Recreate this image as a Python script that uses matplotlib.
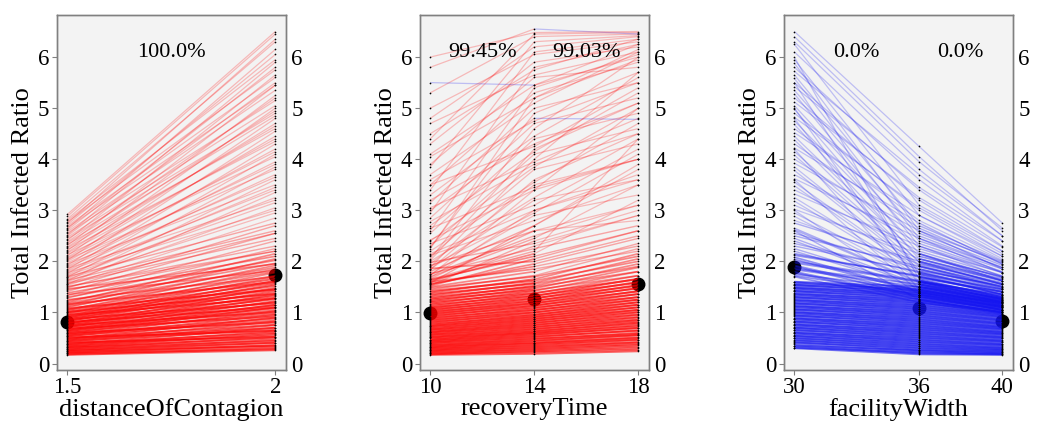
import matplotlib
matplotlib.use('Agg')
import matplotlib.pyplot as plt

plt.rcParams['font.family'] = ['Liberation Serif', 'DejaVu Serif']

# ---- distanceOfContagion (1.5 -> 2) ----
dist_x = [1.5, 2]
dist_at_15 = [
    0.17, 0.18, 0.20, 0.21, 0.22, 0.24, 0.25, 0.26, 0.28, 0.29,
    0.31, 0.32, 0.33, 0.35, 0.36, 0.38, 0.39, 0.41, 0.42, 0.44,
    0.45, 0.47, 0.48, 0.50, 0.51, 0.53, 0.54, 0.56, 0.57, 0.59,
    0.60, 0.62, 0.63, 0.65, 0.66, 0.68, 0.69, 0.71, 0.72, 0.74,
    0.75, 0.77, 0.78, 0.80, 0.81, 0.83, 0.84, 0.86, 0.87, 0.89,
    0.90, 0.92, 0.93, 0.95, 0.96, 0.98, 1.00, 1.01, 1.03, 1.05,
    1.06, 1.08, 1.10, 1.12, 1.14, 1.16, 1.18, 1.20, 1.23, 1.25,
    1.28, 1.30, 1.33, 1.35, 1.38, 1.41, 1.44, 1.46, 1.48, 1.50,
    1.53, 1.56, 1.60, 1.63, 1.67, 1.70, 1.74, 1.78, 1.82, 1.86,
    1.90, 1.95, 2.00, 2.04, 2.08, 2.13, 2.18, 2.23, 2.28, 2.33,
    2.38, 2.44, 2.50, 2.55, 2.61, 2.66, 2.72, 2.77, 2.83, 2.92,
    1.51, 1.55, 1.58, 1.62, 1.65, 1.69, 1.72, 1.76, 1.80, 1.84,
    1.88, 1.92, 1.97, 2.02, 2.06, 2.11, 2.16, 2.21, 2.26, 2.31,
    2.36, 2.41, 2.47, 2.52, 2.58, 2.64, 2.69, 2.75, 2.80, 2.88,
]
dist_at_2 = [
    0.26, 0.30, 0.28, 0.36, 0.33, 0.41, 0.35, 0.46, 0.40, 0.52,
    0.44, 0.58, 0.49, 0.63, 0.55, 0.70, 0.60, 0.52, 0.75, 0.66,
    0.82, 0.70, 0.90, 0.76, 0.64, 0.95, 0.84, 1.02, 0.88, 1.10,
    0.80, 0.97, 1.15, 1.04, 1.22, 0.92, 1.08, 1.28, 1.14, 1.35,
    1.00, 1.20, 1.42, 1.26, 1.10, 1.48, 1.32, 1.55, 1.18, 1.38,
    1.62, 1.45, 1.70, 1.28, 1.52, 1.78, 1.58, 1.36, 1.66, 1.85,
    1.72, 1.45, 1.92, 1.80, 2.05, 1.60, 1.88, 2.15, 1.96, 1.70,
    2.25, 2.02, 2.40, 1.82, 2.10, 2.55, 2.20, 1.95, 2.70, 2.30,
    2.85, 2.45, 3.05, 2.60, 3.25, 2.75, 3.45, 3.00, 3.70, 3.20,
    3.95, 3.50, 4.20, 3.80, 4.45, 4.05, 4.70, 4.35, 4.95, 4.60,
    5.20, 4.90, 5.50, 5.15, 5.80, 5.45, 6.05, 5.75, 6.30, 6.50,
    2.20, 3.35, 2.55, 3.60, 2.95, 3.85, 3.15, 4.10, 3.40, 4.30,
    3.65, 4.55, 3.90, 4.80, 4.15, 5.00, 4.40, 5.25, 4.65, 5.45,
    4.85, 5.65, 5.05, 5.90, 5.35, 6.15, 5.60, 6.35, 5.95, 6.45,
]
dist_means = [0.82, 1.73]
dist_pcts = ['100.0%']

# ---- recoveryTime (10 -> 14 -> 18) ----
rec_x = [10, 14, 18]
rec_at_10 = [
    0.17, 0.18, 0.20, 0.21, 0.23, 0.24, 0.26, 0.27, 0.29, 0.30,
    0.32, 0.33, 0.35, 0.36, 0.38, 0.40, 0.41, 0.43, 0.44, 0.46,
    0.47, 0.49, 0.51, 0.52, 0.54, 0.56, 0.57, 0.59, 0.61, 0.62,
    0.64, 0.66, 0.67, 0.69, 0.71, 0.73, 0.74, 0.76, 0.78, 0.80,
    0.82, 0.84, 0.86, 0.88, 0.90, 0.92, 0.94, 0.96, 0.98, 1.00,
    1.02, 1.04, 1.06, 1.08, 1.10, 1.12, 1.15, 1.17, 1.20, 1.22,
    1.25, 1.27, 1.30, 1.33, 1.36, 1.39, 1.42, 1.45, 1.48, 1.50,
    1.52, 1.55, 1.58, 1.62, 1.66, 1.70, 1.75, 1.80, 1.85, 1.90,
    1.95, 2.00, 2.10, 2.20, 2.30, 2.40, 2.55, 2.70, 2.85, 3.00,
    3.15, 3.30, 3.50, 3.70, 3.90, 4.10, 4.30, 4.50, 4.80, 5.00,
    5.30, 5.50, 5.80, 6.00, 1.58, 1.72, 1.88, 2.05, 2.25, 1.65,
    1.53, 1.60, 1.68, 1.76, 1.84, 1.92, 2.02, 2.15, 2.28, 2.42,
    2.60, 2.78, 2.95, 3.20, 3.40, 3.60, 3.85, 4.05, 4.40, 4.70,
    1.56, 1.64, 1.74, 1.86, 1.98, 2.12, 2.35, 2.65, 3.05, 3.50,
]
rec_at_14 = [
    0.19, 0.24, 0.22, 0.28, 0.26, 0.32, 0.30, 0.36, 0.34, 0.40,
    0.38, 0.44, 0.41, 0.48, 0.45, 0.52, 0.49, 0.56, 0.53, 0.60,
    0.57, 0.63, 0.60, 0.67, 0.64, 0.71, 0.68, 0.75, 0.72, 0.79,
    0.76, 0.83, 0.80, 0.87, 0.84, 0.91, 0.88, 0.95, 0.92, 1.00,
    0.96, 1.04, 1.00, 1.08, 1.05, 1.13, 1.10, 1.18, 1.14, 1.22,
    1.18, 1.27, 1.23, 1.32, 1.28, 1.37, 1.33, 1.42, 1.38, 1.47,
    1.44, 1.52, 1.50, 1.58, 1.56, 1.65, 1.62, 1.72, 1.70, 1.80,
    2.05, 1.95, 2.30, 2.15, 2.60, 2.45, 2.90, 2.70, 3.20, 2.95,
    3.50, 3.25, 3.80, 3.55, 4.10, 3.85, 4.40, 4.15, 4.70, 4.45,
    5.00, 4.80, 5.30, 5.10, 5.60, 5.45, 5.90, 5.75, 6.20, 6.05,
    6.40, 5.45, 6.55, 6.48, 2.70, 3.40, 4.00, 4.60, 5.20, 2.20,
    2.40, 1.85, 3.00, 2.25, 3.60, 2.60, 4.20, 3.00, 4.90, 3.40,
    5.40, 3.90, 5.80, 4.30, 6.10, 4.75, 6.30, 5.20, 6.45, 5.65,
    1.90, 2.10, 2.50, 2.00, 2.35, 2.80, 3.10, 3.45, 3.95, 4.25,
]
rec_at_18 = [
    0.24, 0.30, 0.27, 0.36, 0.33, 0.41, 0.38, 0.46, 0.42, 0.50,
    0.47, 0.55, 0.51, 0.60, 0.56, 0.65, 0.58, 0.70, 0.64, 0.75,
    0.69, 0.80, 0.73, 0.85, 0.78, 0.90, 0.82, 0.95, 0.86, 1.00,
    0.91, 1.05, 0.96, 1.10, 1.01, 1.15, 1.05, 1.20, 1.10, 1.25,
    1.15, 1.30, 1.20, 1.36, 1.25, 1.42, 1.30, 1.48, 1.36, 1.54,
    1.41, 1.60, 1.47, 1.66, 1.52, 1.72, 1.58, 1.80, 1.65, 1.88,
    1.72, 1.95, 1.80, 2.05, 1.90, 2.15, 2.00, 2.25, 2.10, 2.35,
    2.60, 2.45, 2.90, 3.20, 2.80, 3.50, 3.30, 3.80, 3.60, 4.10,
    4.00, 4.40, 4.30, 4.70, 4.60, 5.00, 4.90, 5.30, 5.20, 5.60,
    5.50, 4.78, 5.90, 6.10, 5.80, 6.25, 6.20, 6.35, 6.40, 6.30,
    6.45, 6.00, 6.45, 6.50, 3.90, 5.00, 5.70, 6.00, 6.15, 4.40,
    3.00, 2.20, 3.70, 2.70, 4.50, 3.10, 5.10, 3.60, 5.70, 4.00,
    6.05, 4.50, 6.25, 5.10, 6.35, 5.50, 6.42, 5.95, 6.48, 6.10,
    2.30, 2.60, 3.10, 2.50, 2.90, 3.50, 4.20, 4.00, 4.80, 5.40,
]
rec_means = [0.98, 1.27, 1.55]
rec_pcts = ['99.45%', '99.03%']

# ---- facilityWidth (30 -> 36 -> 40) ----
fac_x = [30, 36, 40]
fac_at_30 = [
    0.30, 0.31, 0.34, 0.35, 0.38, 0.41, 0.42, 0.45, 0.46, 0.49,
    0.50, 0.53, 0.54, 0.56, 0.59, 0.60, 0.62, 0.65, 0.66, 0.69,
    0.70, 0.72, 0.75, 0.76, 0.78, 0.81, 0.82, 0.84, 0.87, 0.88,
    0.90, 0.93, 0.94, 0.96, 0.99, 1.00, 1.02, 1.05, 1.06, 1.08,
    1.11, 1.12, 1.14, 1.17, 1.18, 1.20, 1.23, 1.24, 1.26, 1.29,
    1.30, 1.32, 1.35, 1.36, 1.38, 1.41, 1.42, 1.44, 1.47, 1.48,
    1.50, 1.53, 1.54, 1.56, 1.59, 1.60,
    1.70, 1.75, 1.80, 1.86, 1.92, 2.00, 2.08, 2.15, 2.25, 2.35,
    2.45, 2.55, 2.65, 2.80, 2.95, 3.10, 3.25, 3.40, 3.55, 3.70,
    3.85, 4.00, 4.15, 4.30, 4.45, 4.60, 4.75, 4.90, 5.05, 5.20,
    5.35, 5.50, 5.65, 5.80, 5.95, 6.10, 6.25, 6.40, 6.50, 6.00,
    3.00, 4.20, 5.00, 2.60, 3.60, 4.80, 5.50,
    1.72, 1.78, 1.84, 1.90, 1.97, 2.04, 2.12, 2.20, 2.30, 2.40,
    2.50, 2.62, 2.75, 2.88, 3.02, 3.18, 3.32, 3.48, 3.62, 3.78,
    3.92, 4.08, 4.22, 4.38, 4.52, 4.68, 4.82, 4.98, 5.12, 5.28,
    5.42, 5.58, 5.72, 5.88, 6.30,
]
fac_at_36 = [
    0.18, 0.22, 0.20, 0.26, 0.24, 0.30, 0.27, 0.34, 0.31, 0.38,
    0.35, 0.42, 0.39, 0.46, 0.43, 0.50, 0.47, 0.54, 0.51, 0.58,
    0.55, 0.62, 0.59, 0.66, 0.63, 0.70, 0.67, 0.74, 0.71, 0.78,
    0.75, 0.82, 0.79, 0.86, 0.83, 0.90, 0.87, 0.94, 0.91, 0.98,
    0.95, 1.02, 0.99, 1.06, 1.03, 1.10, 1.07, 1.14, 1.11, 1.18,
    1.15, 1.22, 1.19, 1.26, 1.23, 1.30, 1.27, 1.34, 1.31, 1.38,
    1.35, 1.42, 1.39, 1.46, 1.43, 1.50,
    1.20, 1.45, 1.30, 1.55, 1.38, 1.62, 1.42, 1.70, 1.50, 1.78,
    1.55, 1.85, 1.60, 1.95, 1.68, 2.05, 1.75, 2.20, 1.82, 2.35,
    1.90, 2.50, 2.00, 2.65, 2.10, 2.80, 2.25, 3.00, 2.40, 3.20,
    2.55, 3.40, 2.70, 3.60, 2.90, 3.80, 3.10, 4.05, 4.25, 1.65,
    1.35, 1.45, 1.55, 1.25, 1.40, 1.60, 1.75,
    1.35, 1.25, 1.50, 1.32, 1.60, 1.40, 1.72, 1.48, 1.80, 1.52,
    1.90, 1.58, 2.00, 1.62, 2.15, 1.70, 2.30, 1.78, 2.45, 1.85,
    2.60, 1.92, 2.75, 1.98, 2.90, 2.05, 3.05, 2.15, 3.25, 2.30,
    3.45, 2.45, 3.70, 2.60, 3.95,
]
fac_at_40 = [
    0.17, 0.19, 0.18, 0.22, 0.20, 0.25, 0.23, 0.28, 0.26, 0.31,
    0.29, 0.35, 0.32, 0.38, 0.36, 0.42, 0.39, 0.45, 0.43, 0.49,
    0.46, 0.52, 0.50, 0.56, 0.53, 0.59, 0.57, 0.62, 0.60, 0.66,
    0.63, 0.69, 0.67, 0.72, 0.70, 0.76, 0.73, 0.79, 0.77, 0.83,
    0.80, 0.86, 0.84, 0.90, 0.87, 0.93, 0.91, 0.96, 0.94, 1.00,
    0.97, 1.03, 1.01, 1.07, 1.04, 1.10, 1.08, 1.13, 1.11, 1.17,
    1.14, 1.20, 1.18, 1.24, 1.21, 1.27,
    0.98, 1.15, 1.05, 1.25, 1.10, 1.32, 1.18, 1.40, 1.22, 1.45,
    1.28, 1.50, 1.35, 1.58, 1.40, 1.65, 1.45, 1.72, 1.52, 1.80,
    1.55, 1.88, 1.62, 1.95, 1.70, 2.02, 1.78, 2.10, 1.85, 2.20,
    1.92, 2.30, 2.00, 2.40, 2.10, 2.50, 2.20, 2.60, 2.75, 1.30,
    1.05, 1.15, 1.20, 1.00, 1.12, 1.25, 1.35,
    1.10, 1.00, 1.20, 1.05, 1.28, 1.12, 1.35, 1.18, 1.42, 1.22,
    1.48, 1.26, 1.55, 1.30, 1.62, 1.36, 1.70, 1.40, 1.78, 1.46,
    1.85, 1.50, 1.95, 1.55, 2.05, 1.62, 2.15, 1.68, 2.28, 1.78,
    2.40, 1.88, 2.50, 1.98, 2.65,
]
fac_means = [1.88, 1.08, 0.83]
fac_pcts = ['0.0%', '0.0%']

Y_LIM = (-0.12, 6.82)


def draw_panel(ax, xs, columns, means, pcts, xlabel):
    ax.set_facecolor('#f3f3f3')
    span = xs[-1] - xs[0]
    ax.set_xlim(xs[0] - 0.05 * span, xs[-1] + 0.05 * span)
    ax.set_ylim(*Y_LIM)

    # one line per run, red if it goes up, blue if it goes down;
    # segments inside the crowded low band are drawn heavier
    for i in range(len(columns[0])):
        for j in range(len(xs) - 1):
            y0, y1 = columns[j][i], columns[j + 1][i]
            color = '#ff0000' if y1 > y0 else '#1515f0'
            top = max(y0, y1)
            if top < 1.7:
                alpha, lw = 0.6, 1.4
            elif top < 2.2:
                alpha, lw = 0.45, 1.2
            elif top < 2.8:
                alpha, lw = 0.32, 1.0
            else:
                alpha, lw = 0.24, 0.9
            ax.plot([xs[j], xs[j + 1]], [y0, y1], color=color,
                    alpha=alpha, lw=lw, zorder=3, solid_capstyle='butt')

    # mean markers sit underneath the lines
    ax.plot(xs, means, 'o', color='black', ms=9, zorder=2)

    # raw values as tiny black dots on each axis
    for x, col in zip(xs, columns):
        ax.scatter([x] * len(col), col, s=1.5, color='black', lw=0, zorder=4)

    for j, p in enumerate(pcts):
        ax.text((xs[j] + xs[j + 1]) / 2, 6.08, p, ha='center', va='center',
                fontsize=16)

    ax.set_xticks(xs)
    ax.set_xticklabels([('%g' % x) for x in xs])
    ax.set_yticks(range(7))
    ax.set_xlabel(xlabel, fontsize=19, labelpad=0)
    ax.set_ylabel('Total Infected Ratio', fontsize=19, labelpad=3)
    ax.tick_params(labelsize=16.5, length=3.5, width=0.8, color='#808080', pad=2)
    for s in ax.spines.values():
        s.set_color('#808080')
        s.set_linewidth(1.0)

    ax2 = ax.twinx()
    ax2.set_ylim(*Y_LIM)
    ax2.set_yticks(range(7))
    ax2.tick_params(labelsize=16.5, length=0, pad=4)
    for s in ax2.spines.values():
        s.set_color('#808080')
        s.set_linewidth(1.0)


fig = plt.figure(figsize=(10.4, 4.21), dpi=100)
ax1 = fig.add_axes([0.0548, 0.122, 0.220, 0.842])
ax2 = fig.add_axes([0.4038, 0.122, 0.220, 0.842])
ax3 = fig.add_axes([0.7538, 0.122, 0.220, 0.842])

draw_panel(ax1, dist_x, [dist_at_15, dist_at_2], dist_means, dist_pcts,
           'distanceOfContagion')
draw_panel(ax2, rec_x, [rec_at_10, rec_at_14, rec_at_18], rec_means, rec_pcts,
           'recoveryTime')
draw_panel(ax3, fac_x, [fac_at_30, fac_at_36, fac_at_40], fac_means, fac_pcts,
           'facilityWidth')

fig.savefig('out.png', dpi=100)
